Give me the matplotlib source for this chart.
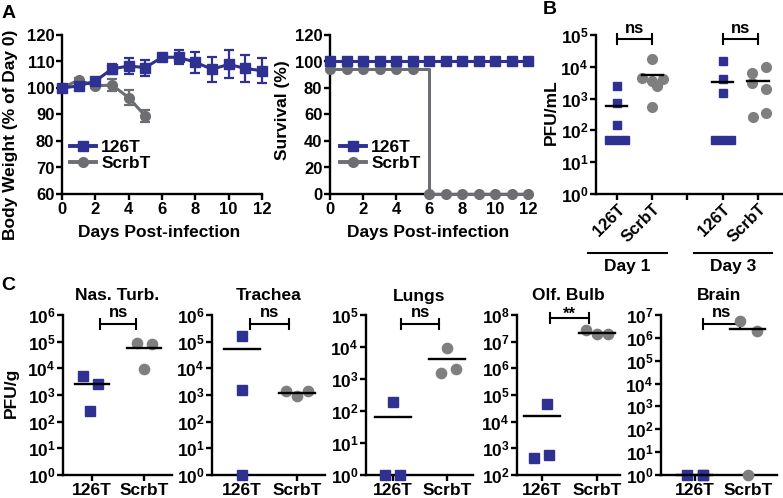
import matplotlib
matplotlib.use('Agg')
import matplotlib.pyplot as plt
import numpy as np
import matplotlib.transforms as mtransforms
from matplotlib.ticker import FuncFormatter, NullLocator
from matplotlib.lines import Line2D

plt.rcParams['font.family'] = ['Liberation Sans', 'DejaVu Sans']
plt.rcParams['font.weight'] = 'bold'
plt.rcParams['mathtext.fontset'] = 'custom'
plt.rcParams['mathtext.rm'] = 'Liberation Sans:bold'
plt.rcParams['mathtext.bf'] = 'Liberation Sans:bold'
plt.rcParams['mathtext.it'] = 'Liberation Sans:bold'
plt.rcParams['mathtext.default'] = 'rm'

BLUE = '#2E3192'
GRAY = '#6D6E71'
GRAY_PT = '#7F7F7F'

# ---------------- Data ----------------
# Panel A: body weight
days = [0, 1, 2, 3, 4, 5, 6, 7, 8, 9, 10, 11, 12]
weight_126T = [100, 100.8, 102.6, 107.2, 108.3, 107.7, 111.6, 111.6, 109.7, 107.1, 108.9, 107.4, 106.5]
weight_126T_err = [0.5, 1.0, 0.8, 1.8, 3.0, 3.0, 1.2, 2.6, 3.9, 4.7, 5.3, 5.2, 4.7]
days_scrbT = [0, 1, 2, 3, 4, 5]
weight_scrbT = [100, 103.0, 100.8, 101.1, 96.4, 89.4]
weight_scrbT_err = [0.5, 0.8, 0.8, 2.4, 2.7, 2.2]

# Panel A: survival
survival_126T = [100, 100, 100, 100, 100, 100, 100, 100, 100, 100, 100, 100, 100]
survival_scrbT = [94, 94, 94, 94, 94, 94, 0, 0, 0, 0, 0, 0, 0]

# Panel B: PFU/mL
b_groups = ['126T', 'ScrbT']
b_days = ['Day 1', 'Day 3']
b_d1_126T = [2500, 730, 150, 50, 50, 50]
b_d1_scrbT = [18000, 4500, 4000, 3500, 2500, 550]
b_d3_126T = [15000, 4000, 1500, 50, 50, 50]
b_d3_scrbT = [10000, 6500, 3100, 2000, 350, 260]
b_sig = ['ns', 'ns']

# Panel C: PFU/g
c_tissues = ['Nas. Turb.', 'Trachea', 'Lungs', 'Olf. Bulb', 'Brain']
c_126T = [[5100, 2600, 250], [160000, 1500, 1], [1, 1, 190], [48000, 440, 570], [1, 1, 1]]
c_scrbT = [[87000, 80000, 9300], [1400, 900, 1400], [9000, 1550, 2050], [2.7e7, 1.9e7, 1.9e7], [5.4e6, 1.9e6, 1]]
c_sig = ['ns', 'ns', 'ns', '**', 'ns']
c_ylim_exp = [(0, 6), (0, 6), (0, 5), (2, 8), (0, 7)]

# ---------------- Layout ----------------
W, H = 783, 498
fig = plt.figure(figsize=(W / 100, H / 100), dpi=100)

TICK_FS = 12
LOG_FS = 12.5
LABEL_FS = 12.5


def add_ax(x0, y0, x1, y1):
    return fig.add_axes([x0 / W, 1 - y1 / H, (x1 - x0) / W, (y1 - y0) / H])


def ftext(x, y, s, **kw):
    fig.text(x / W, 1 - y / H, s, **kw)


def style(ax, labelsize=TICK_FS):
    for s in ['top', 'right']:
        ax.spines[s].set_visible(False)
    for s in ['left', 'bottom']:
        ax.spines[s].set_linewidth(1.7)
    ax.tick_params(direction='out', length=4, width=1.7, labelsize=labelsize, pad=1.5)


logfmt = FuncFormatter(lambda v, p: r'$10^{%d}$' % int(round(np.log10(v))))


def bracket(ax, x1, x2, yfrac, text, tyfrac, half=0.03):
    tr = mtransforms.blended_transform_factory(ax.transData, ax.transAxes)
    ax.plot([x1, x2], [yfrac, yfrac], color='black', lw=1.5, transform=tr, clip_on=False)
    for x in (x1, x2):
        ax.plot([x, x], [yfrac - half, yfrac + half], color='black', lw=1.5, transform=tr, clip_on=False)
    ax.text((x1 + x2) / 2, tyfrac, text, transform=tr, ha='center', va='baseline', fontsize=12)


# ---------------- Panel A left ----------------
axA1 = add_ax(62, 35, 262, 194)
style(axA1)
axA1.errorbar(days, weight_126T, yerr=weight_126T_err, color=BLUE, marker='s', ms=7, lw=2.2,
              elinewidth=1.6, capsize=3.5, capthick=1.6, clip_on=False, zorder=4)
axA1.errorbar(days_scrbT, weight_scrbT, yerr=weight_scrbT_err, color=GRAY, marker='o', ms=7, lw=2.2,
              elinewidth=1.6, capsize=3.5, capthick=1.6, clip_on=False, zorder=3)
axA1.set_xlim(0, 12)
axA1.set_ylim(60, 120)
axA1.set_xticks(range(0, 13, 2))
axA1.set_yticks(range(60, 121, 10))
handles = [Line2D([], [], color=BLUE, marker='s', ms=7, lw=2.8),
           Line2D([], [], color=GRAY, marker='o', ms=7, lw=2.8)]
axA1.legend(handles, ['126T', 'ScrbT'], loc='upper left', bbox_to_anchor=(0.04, 0.34), frameon=False,
            handlelength=1.5, handletextpad=0.3, labelspacing=0.05, borderpad=0, borderaxespad=0,
            fontsize=12.5)
ftext(159, 232, 'Days Post-infection', ha='center', va='center', fontsize=LABEL_FS)
ftext(11, 135, 'Body Weight (% of Day 0)', ha='center', va='center', rotation=90, fontsize=LABEL_FS)

# ---------------- Panel A right ----------------
axA2 = add_ax(330, 35, 528, 194)
style(axA2)
axA2.step(days, survival_scrbT, where='post', color=GRAY, lw=2.2, clip_on=False, zorder=3)
axA2.plot(days, survival_scrbT, ls='none', marker='o', color=GRAY, ms=7, clip_on=False, zorder=3)
axA2.plot(days, survival_126T, color=BLUE, marker='s', ms=7, lw=2.2, clip_on=False, zorder=4)
axA2.set_xlim(0, 12)
axA2.set_ylim(0, 120)
axA2.set_xticks(range(0, 13, 2))
axA2.set_yticks(range(0, 121, 20))
axA2.legend(handles, ['126T', 'ScrbT'], loc='upper left', bbox_to_anchor=(0.05, 0.34), frameon=False,
            handlelength=1.5, handletextpad=0.3, labelspacing=0.05, borderpad=0, borderaxespad=0,
            fontsize=12.5)
ftext(428, 232, 'Days Post-infection', ha='center', va='center', fontsize=LABEL_FS)
ftext(283, 110, 'Survival (%)', ha='center', va='center', rotation=90, fontsize=LABEL_FS)

# ---------------- Panel B ----------------
axB = add_ax(596, 35, 782, 194)
style(axB)
axB.set_yscale('log')
axB.set_ylim(1, 1e5)
axB.set_xlim(0.41, 5.68)
axB.set_yticks([10.0 ** k for k in range(0, 6)])
axB.yaxis.set_major_formatter(logfmt)
axB.yaxis.set_minor_locator(NullLocator())
axB.tick_params(axis='y', labelsize=LOG_FS)
b_series = [[b_d1_126T, b_d1_scrbT], [b_d3_126T, b_d3_scrbT]]
b_offsets = [[[0, 0, 0, -0.23, 0, 0.23], [0, -0.3, 0.3, 0.0, 0.15, 0]],
             [[0, 0, 0, -0.23, 0, 0.23], [0.23, -0.17, -0.17, 0.23, 0.23, -0.13]]]
tick_pos, tick_lab = [], []
trB = mtransforms.blended_transform_factory(axB.transData, axB.transAxes)
for d in range(len(b_days)):
    for g in range(len(b_groups)):
        x = 1 + 3 * d + g
        vals = np.array(b_series[d][g], dtype=float)
        offs = np.array(b_offsets[d][g])
        if g == 0:
            axB.plot(x + offs, vals, ls='none', marker='s', ms=6.2, color=BLUE, clip_on=False, zorder=3)
        else:
            axB.plot(x + offs, vals, ls='none', marker='o', ms=7, color=GRAY_PT, clip_on=False, zorder=3)
        m = vals.mean()
        axB.plot([x - 0.3, x + 0.3], [m, m], color='black', lw=1.7, zorder=4)
        tick_pos.append(x)
        tick_lab.append(b_groups[g])
    if d == 0:
        tick_pos.append(3)
        tick_lab.append('')
    bracket(axB, 1 + 3 * d, 2 + 3 * d, 0.975, b_sig[d], 1.012, half=0.032)
    xc = 1.3 + 3 * d
    axB.plot([xc - 1.11, xc + 1.11], [-0.371, -0.371], color='black', lw=1.5, transform=trB, clip_on=False)
    axB.text(xc, -0.453, b_days[d], transform=trB, ha='center', va='center', fontsize=LABEL_FS)
order = np.argsort(tick_pos)
axB.set_xticks(np.array(tick_pos)[order])
axB.set_xticklabels(np.array(tick_lab)[order], rotation=45, ha='right', va='top', rotation_mode='anchor')
ftext(551, 112, 'PFU/mL', ha='center', va='center', rotation=90, fontsize=LABEL_FS)

# ---------------- Panel C ----------------
c_boxes = [(63, 172, 0.44, 2.54), (212, 325, 0.45, 2.51), (366, 473, 0.50, 2.48),
           (517, 620, 0.55, 2.42), (661, 777, 0.36, 2.55)]
c_off_126T = [[-0.17, 0.12, -0.04], [0, 0, 0], [-0.15, 0.13, 0], [0.1, -0.15, 0.13], [-0.15, 0.15, 0.15]]
c_off_scrbT = [[-0.13, 0.15, 0], [-0.2, 0, 0.2], [0, -0.12, 0.17], [-0.2, 0, 0.2], [-0.15, 0.17, 0]]
for i, tissue in enumerate(c_tissues):
    x0, x1, xl, xr = c_boxes[i]
    ax = add_ax(x0, 315, x1, 475)
    style(ax)
    ax.set_yscale('log')
    lo, hi = c_ylim_exp[i]
    ax.set_ylim(10.0 ** lo, 10.0 ** hi)
    ax.set_yticks([10.0 ** k for k in range(lo, hi + 1)])
    ax.yaxis.set_major_formatter(logfmt)
    ax.yaxis.set_minor_locator(NullLocator())
    ax.tick_params(axis='y', labelsize=LOG_FS)
    ax.set_xlim(xl, xr)
    ax.set_xticks([1, 2])
    ax.set_xticklabels(['126T', 'ScrbT'], fontsize=12.5)
    v1 = np.array(c_126T[i], dtype=float)
    v2 = np.array(c_scrbT[i], dtype=float)
    ax.plot(1 + np.array(c_off_126T[i]), v1, ls='none', marker='s', ms=6.8, color=BLUE, clip_on=False, zorder=3)
    ax.plot(2 + np.array(c_off_scrbT[i]), v2, ls='none', marker='o', ms=7.4, color=GRAY_PT, clip_on=False, zorder=3)
    for x, v in ((1, v1), (2, v2)):
        m = v.mean()
        ax.plot([x - 0.33, x + 0.33], [m, m], color='black', lw=1.7, zorder=4, clip_on=False)
    if c_sig[i] == '**':
        bracket(ax, 1.15, 1.85, 0.98, c_sig[i], 0.975, half=0.031)
    else:
        bracket(ax, 1.15, 1.85, 0.944, c_sig[i], 0.9875, half=0.031)
    ftext((x0 + x1) / 2, 296, tissue, ha='center', va='center', fontsize=12.5)
ftext(11, 393, 'PFU/g', ha='center', va='center', rotation=90, fontsize=LABEL_FS)

# Panel letters
ftext(9, 14, 'A', ha='center', va='center', fontsize=14)
ftext(550, 10, 'B', ha='center', va='center', fontsize=14)
ftext(8, 285, 'C', ha='center', va='center', fontsize=14)

fig.savefig('out.png', dpi=100)
